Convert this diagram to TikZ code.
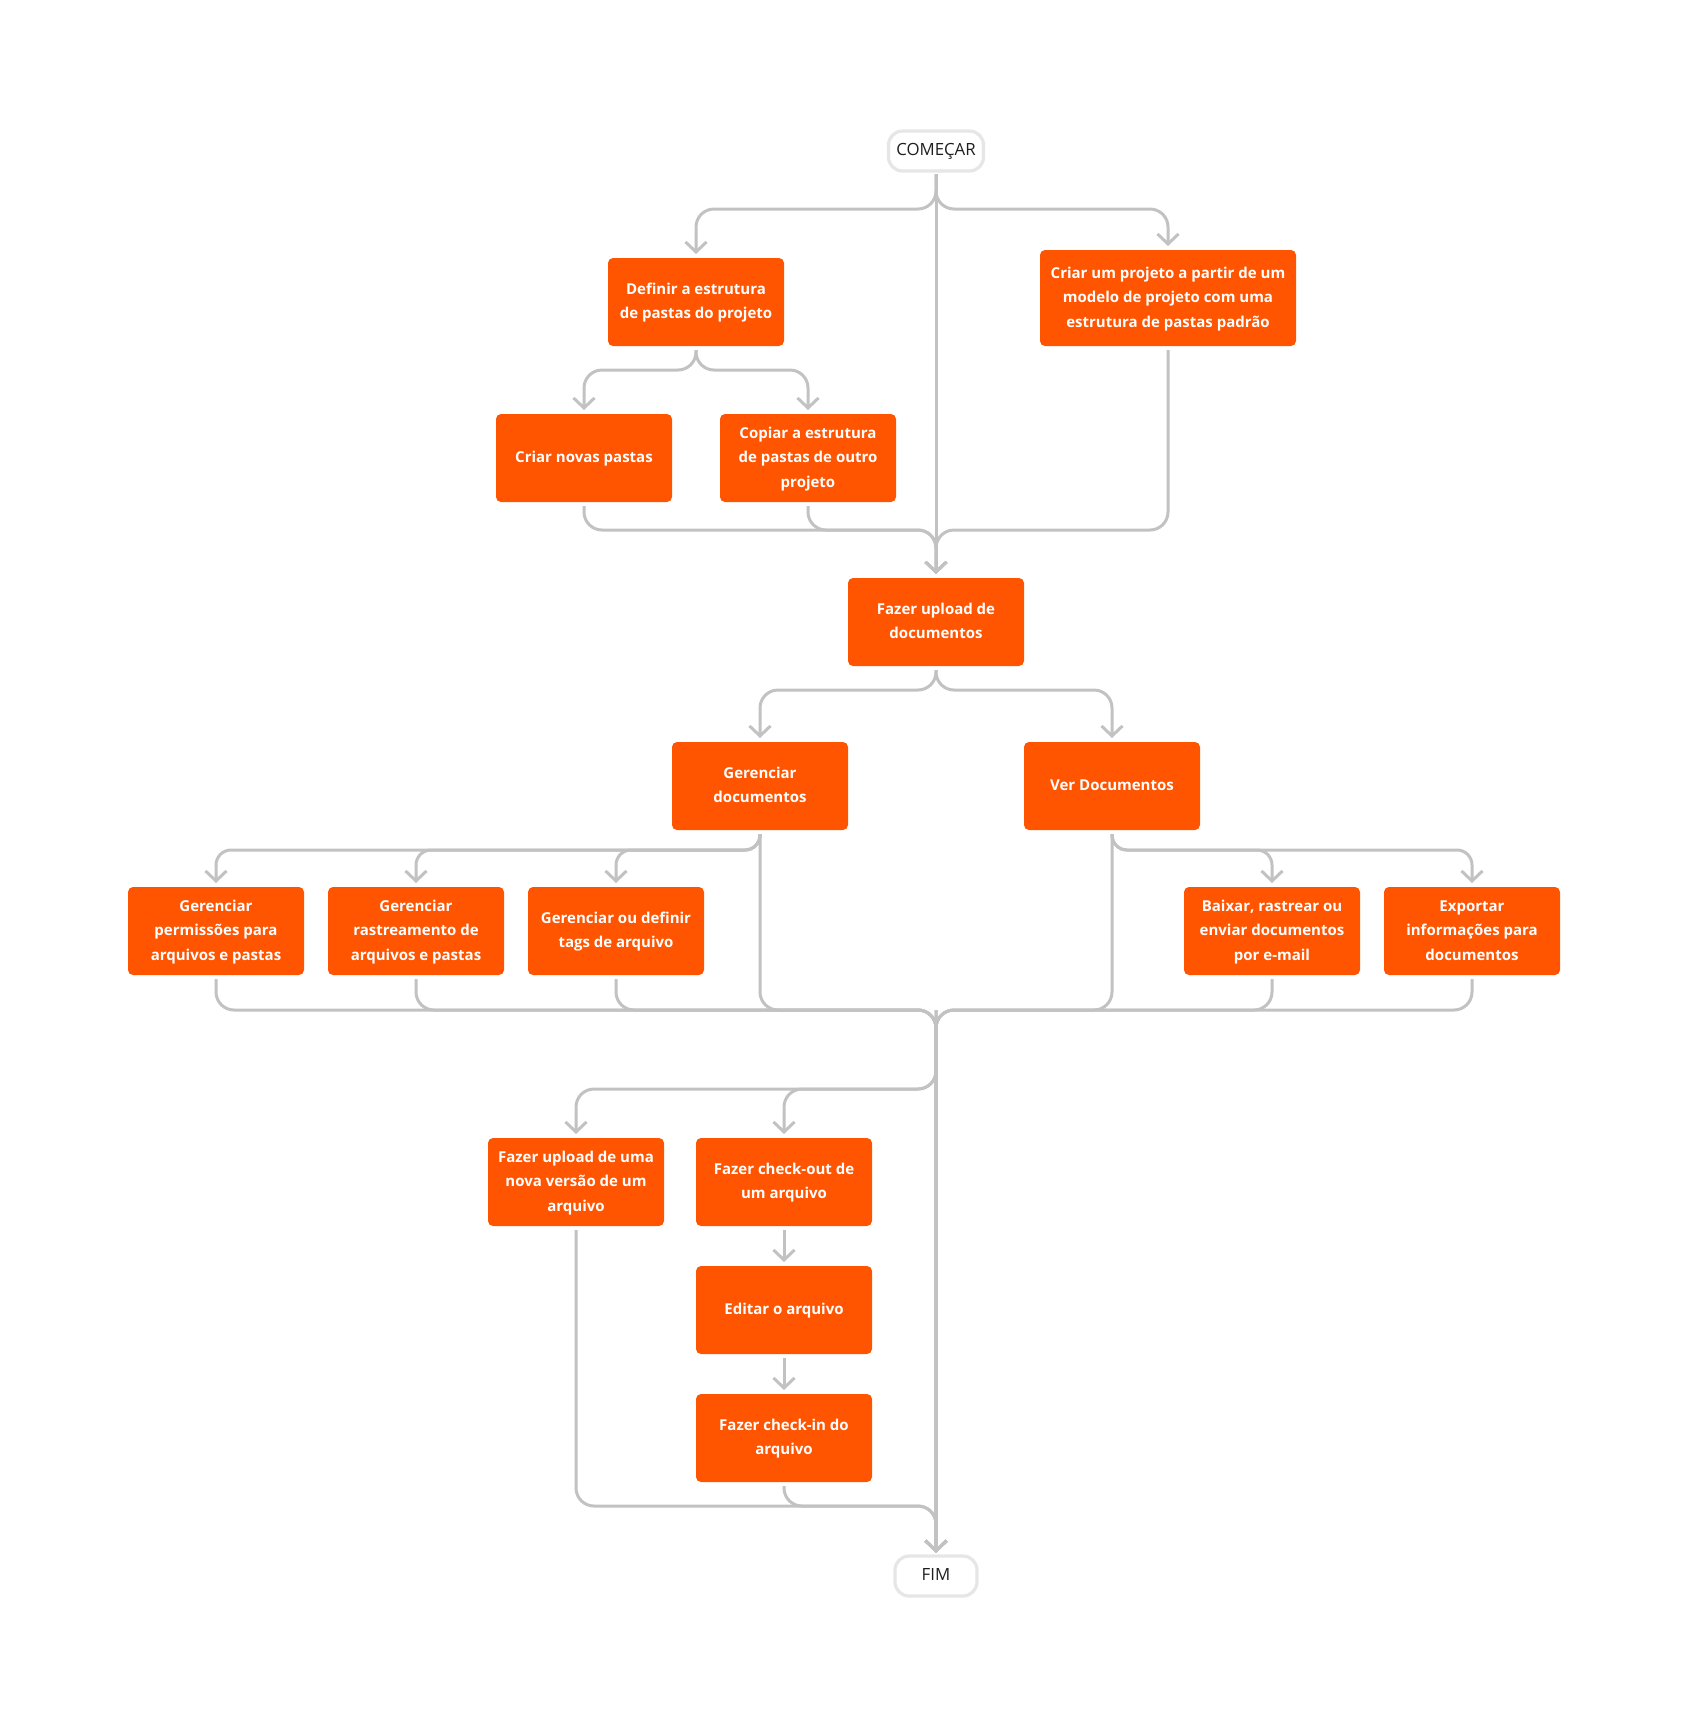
\documentclass[tikz,border=0pt]{standalone}
\usepackage{fontspec}
\setmainfont{Open Sans}
\usetikzlibrary{arrows.meta}
\definecolor{orangebox}{HTML}{FF5400}
\definecolor{linegray}{HTML}{C2C2C2}
\definecolor{termgray}{HTML}{E6E6E6}
\definecolor{textdark}{HTML}{1F1F1F}
\newcommand\boxtext[1]{\begin{tabular}{@{}c@{}}#1\end{tabular}}
\tikzset{
  proc/.style={rectangle, rounded corners=2.5pt, fill=orangebox, text=white,
    minimum width=88pt, minimum height=44pt, inner sep=0pt, outer sep=2pt,
    font=\bfseries\fontsize{7.5}{12.1}\selectfont},
  term/.style={rectangle, rounded corners=7pt, draw=termgray, line width=1.6pt,
    fill=white, minimum width=47.5pt, minimum height=20pt, inner sep=0pt,
    outer sep=1.6pt, text=textdark, font=\fontsize{8.4}{12}\selectfont},
  conn/.style={draw=linegray, line width=1.5pt, rounded corners=9pt},
  tight/.style={rounded corners=7.5pt},
  arr/.style={-{Straight Barb[length=5pt,width=10.5pt,line width=1.5pt]}}
}
\begin{document}
\begin{tikzpicture}[x=0.5pt,y=-0.5pt]
\useasboundingbox (0,0) rectangle (1688,1726);
% nodes
\node[term] (start) at (936,151) {\strut COMEÇAR};
\node[proc] (def) at (696,302) {\boxtext{Definir a estrutura\\de pastas do projeto}};
\node[proc, minimum width=128pt, minimum height=48pt] (tmpl) at (1168,298) {\boxtext{Criar um projeto a partir de um\\modelo de projeto com uma\\estrutura de pastas padrão}};
\node[proc] (novas) at (584,458) {\boxtext{Criar novas pastas}};
\node[proc] (copiar) at (808,458) {\boxtext{Copiar a estrutura\\de pastas de outro\\projeto}};
\node[proc] (upload) at (936,622) {\boxtext{Fazer upload de\\documentos}};
\node[proc] (gerdoc) at (760,786) {\boxtext{Gerenciar\\documentos}};
\node[proc] (ver) at (1112,786) {\boxtext{Ver Documentos}};
\node[proc] (perm) at (216,931) {\boxtext{Gerenciar\\permissões para\\arquivos e pastas}};
\node[proc] (rast) at (416,931) {\boxtext{Gerenciar\\rastreamento de\\arquivos e pastas}};
\node[proc] (tags) at (616,931) {\boxtext{Gerenciar ou definir\\tags de arquivo}};
\node[proc] (baixar) at (1272,931) {\boxtext{Baixar, rastrear ou\\enviar documentos\\por e-mail}};
\node[proc] (export) at (1472,931) {\boxtext{Exportar\\informações para\\documentos}};
\node[proc] (nova) at (576,1182) {\boxtext{Fazer upload de uma\\nova versão de um\\arquivo}};
\node[proc] (checkout) at (784,1182) {\boxtext{Fazer check-out de\\um arquivo}};
\node[proc] (editar) at (784,1310) {\boxtext{Editar o arquivo}};
\node[proc] (checkin) at (784,1438) {\boxtext{Fazer check-in do\\arquivo}};
\node[term, minimum width=41pt] (fim) at (936,1576) {\strut FIM};
% levels
\coordinate (h1) at (0,209);
\coordinate (h2) at (0,370);
\coordinate (h3) at (0,530);
\coordinate (h4) at (0,690);
\coordinate (h5) at (0,850);
\coordinate (h6) at (0,1010);
\coordinate (h7) at (0,1089);
\coordinate (h8) at (0,1506);
\coordinate (j2) at (fim.north |- h6);
% top
\draw[conn,arr] (start.south) -- (start.south |- h1) -- (def.north |- h1) -- (def.north);
\draw[conn,arr] (start.south) -- (start.south |- h1) -- (tmpl.north |- h1) -- (tmpl.north);
\draw[conn,arr] (start.south) -- (upload.north);
\draw[conn,arr] (def.south) -- (def.south |- h2) -- (novas.north |- h2) -- (novas.north);
\draw[conn,arr] (def.south) -- (def.south |- h2) -- (copiar.north |- h2) -- (copiar.north);
\draw[conn,arr] (novas.south) -- (novas.south |- h3) -- (upload.north |- h3) -- (upload.north);
\draw[conn,arr] (copiar.south) -- (copiar.south |- h3) -- (upload.north |- h3) -- (upload.north);
\draw[conn,arr] (tmpl.south) -- (tmpl.south |- h3) -- (upload.north |- h3) -- (upload.north);
% middle
\draw[conn,arr] (upload.south) -- (upload.south |- h4) -- (gerdoc.north |- h4) -- (gerdoc.north);
\draw[conn,arr] (upload.south) -- (upload.south |- h4) -- (ver.north |- h4) -- (ver.north);
\draw[conn,tight,arr] (gerdoc.south) -- (gerdoc.south |- h5) -- (perm.north |- h5) -- (perm.north);
\draw[conn,tight,arr] (gerdoc.south) -- (gerdoc.south |- h5) -- (rast.north |- h5) -- (rast.north);
\draw[conn,tight,arr] (gerdoc.south) -- (gerdoc.south |- h5) -- (tags.north |- h5) -- (tags.north);
\draw[conn,tight,arr] (ver.south) -- (ver.south |- h5) -- (baixar.north |- h5) -- (baixar.north);
\draw[conn,tight,arr] (ver.south) -- (ver.south |- h5) -- (export.north |- h5) -- (export.north);
% merge into trunk
\foreach \n in {perm,rast,tags,gerdoc,ver,baixar,export}{
  \draw[conn,arr] (\n.south) -- (\n.south |- h6) -- (j2) -- (fim.north);
}
% bottom split
\draw[conn,arr] (j2) -- (j2 |- h7) -- (nova.north |- h7) -- (nova.north);
\draw[conn,arr] (j2) -- (j2 |- h7) -- (checkout.north |- h7) -- (checkout.north);
\draw[conn,arr] (checkout.south) -- (editar.north);
\draw[conn,arr] (editar.south) -- (checkin.north);
\draw[conn,arr] (nova.south) -- (nova.south |- h8) -- (fim.north |- h8) -- (fim.north);
\draw[conn,arr] (checkin.south) -- (checkin.south |- h8) -- (fim.north |- h8) -- (fim.north);
\end{tikzpicture}
\end{document}
